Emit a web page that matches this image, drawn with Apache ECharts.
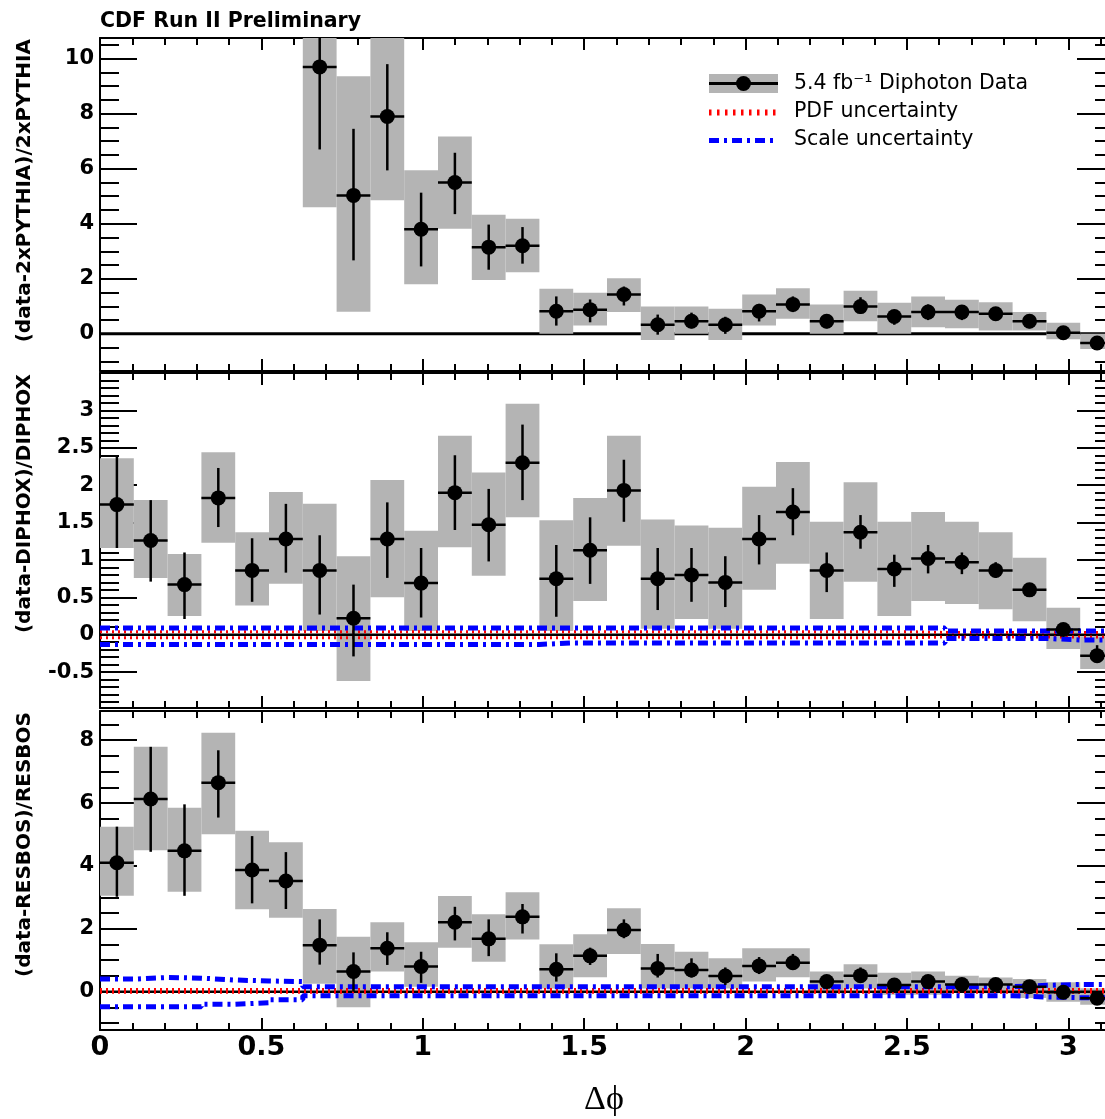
<!DOCTYPE html>
<html>
<head>
<meta charset="utf-8">
<title>CDF Run II Preliminary - diphoton delta phi</title>
<script src="https://cdn.jsdelivr.net/npm/echarts@6/dist/echarts.min.js"></script>
<style>
  html, body { margin: 0; padding: 0; background: #fff; }
  #chart { width: 1105px; height: 1119px; }
</style>
</head>
<body>
<div id="chart"></div>
<script>
  // binning: 30 bins from 0 to pi
  const nBins = 30
  const phiMin = 0
  const phiMax = Math.PI

  // x ticks
  const xMajorTicks = [0, 0.5, 1, 1.5, 2, 2.5, 3]
  const xMinorTicks = [0.1, 0.2, 0.3, 0.4, 0.6, 0.7, 0.8, 0.9, 1.1, 1.2, 1.3, 1.4, 1.6, 1.7, 1.8, 1.9,
    2.1, 2.2, 2.3, 2.4, 2.6, 2.7, 2.8, 2.9, 3.1]

  // panel 1: (data-2xPYTHIA)/2xPYTHIA
  const pythiaVal = [null, null, null, null, null, null, 9.7, 5.03, 7.9, 3.8, 5.5, 3.15, 3.2, 0.82, 0.88,
    1.43, 0.33, 0.46, 0.33, 0.82, 1.07, 0.46, 0.99, 0.63, 0.79, 0.79, 0.73, 0.46, 0.04, -0.33]
  const pythiaBoxLo = [null, null, null, null, null, null, 4.6, 0.8, 4.85, 1.8, 3.82, 1.96, 2.24, 0.0, 0.3,
    0.79, -0.22, 0.0, -0.22, 0.3, 0.55, 0.0, 0.46, 0.0, 0.24, 0.2, 0.12, 0.12, -0.2, -0.55]
  const pythiaBoxHi = [null, null, null, null, null, null, 15, 9.36, 15, 5.94, 7.17, 4.33, 4.18, 1.64, 1.49,
    2.02, 0.99, 0.99, 0.91, 1.43, 1.66, 1.07, 1.57, 1.13, 1.36, 1.24, 1.15, 0.79, 0.4, 0.0]
  const pythiaErrLo = [null, null, null, null, null, null, 6.7, 2.67, 5.94, 2.45, 4.35, 2.33, 2.55, 0.3, 0.42,
    1.03, -0.03, 0.2, 0.0, 0.45, 0.79, 0.2, 0.73, 0.33, 0.5, 0.5, 0.5, 0.2, -0.1, -0.55]
  const pythiaErrHi = [null, null, null, null, null, null, 12.7, 7.45, 9.8, 5.13, 6.58, 3.97, 3.88, 1.36, 1.25,
    1.72, 0.7, 0.77, 0.62, 1.09, 1.36, 0.7, 1.33, 0.87, 1.07, 0.99, 0.9, 0.7, 0.2, -0.11]
  const pythiaYTicks = [0, 2, 4, 6, 8, 10]
  const pythiaYMinor = [-1, -0.5, 0.5, 1, 1.5, 2.5, 3, 3.5, 4.5, 5, 5.5, 6.5, 7, 7.5, 8.5, 9, 9.5, 10.5]

  // panel 2: (data-DIPHOX)/DIPHOX
  const diphoxVal = [1.74, 1.26, 0.67, 1.83, 0.86, 1.28, 0.86, 0.22, 1.28, 0.69, 1.90, 1.47, 2.30, 0.75, 1.13,
    1.93, 0.75, 0.80, 0.70, 1.28, 1.64, 0.86, 1.37, 0.88, 1.02, 0.97, 0.86, 0.60, 0.07, -0.28]
  const diphoxBoxLo = [1.16, 0.76, 0.25, 1.23, 0.39, 0.68, 0.05, -0.62, 0.50, 0.05, 1.17, 0.79, 1.57, 0.05, 0.45,
    1.19, 0.08, 0.21, 0.08, 0.60, 0.95, 0.21, 0.71, 0.25, 0.45, 0.41, 0.34, 0.18, -0.19, -0.46]
  const diphoxBoxHi = [2.36, 1.80, 1.08, 2.44, 1.37, 1.91, 1.75, 1.05, 2.07, 1.39, 2.66, 2.17, 3.09, 1.53, 1.83,
    2.66, 1.54, 1.46, 1.43, 1.98, 2.31, 1.51, 2.04, 1.51, 1.64, 1.51, 1.37, 1.03, 0.36, -0.02]
  const diphoxErrLo = [1.16, 0.71, 0.21, 1.44, 0.44, 0.83, 0.27, -0.29, 0.76, 0.23, 1.40, 0.98, 1.80, 0.24, 0.68,
    1.51, 0.33, 0.44, 0.37, 0.94, 1.33, 0.57, 1.15, 0.64, 0.82, 0.81, 0.76, 0.52, 0.0, -0.36]
  const diphoxErrHi = [2.38, 1.80, 1.10, 2.23, 1.29, 1.75, 1.33, 0.67, 1.77, 1.16, 2.40, 1.95, 2.81, 1.20, 1.57,
    2.34, 1.16, 1.16, 1.05, 1.60, 1.96, 1.10, 1.60, 1.07, 1.20, 1.10, 0.97, 0.67, 0.10, -0.14]
  const diphoxPdfUp = [0.04, 0.04, 0.04, 0.04, 0.04, 0.04, 0.04, 0.04, 0.04, 0.04, 0.04, 0.04, 0.04, 0.04, 0.04,
    0.04, 0.04, 0.04, 0.04, 0.04, 0.04, 0.04, 0.04, 0.04, 0.03, 0.03, 0.03, 0.03, 0.03, 0.03]
  const diphoxPdfDn = [-0.04, -0.04, -0.04, -0.04, -0.04, -0.04, -0.04, -0.04, -0.04, -0.04, -0.04, -0.04, -0.04,
    -0.04, -0.04, -0.04, -0.04, -0.04, -0.04, -0.04, -0.04, -0.04, -0.04, -0.04, -0.03, -0.03, -0.03, -0.03, -0.03, -0.03]
  const diphoxScaleUp = [0.09, 0.09, 0.09, 0.09, 0.09, 0.09, 0.09, 0.09, 0.09, 0.09, 0.09, 0.09, 0.09, 0.09, 0.09,
    0.09, 0.09, 0.09, 0.09, 0.09, 0.09, 0.09, 0.09, 0.09, 0.09, 0.05, 0.05, 0.05, 0.05, 0.05]
  const diphoxScaleDn = [-0.13, -0.13, -0.13, -0.13, -0.13, -0.13, -0.13, -0.13, -0.13, -0.13, -0.13, -0.13, -0.13,
    -0.11, -0.11, -0.11, -0.11, -0.11, -0.11, -0.11, -0.11, -0.11, -0.11, -0.11, -0.11, -0.05, -0.05, -0.05, -0.07, -0.07]
  const diphoxYTicks = [-0.5, 0, 0.5, 1, 1.5, 2, 2.5, 3]
  const diphoxYMajor = [-0.5, 0, 0.5, 1, 1.5, 2, 2.5, 3, 3.5]
  const diphoxYMinor = [-0.9, -0.8, -0.7, -0.6, -0.4, -0.3, -0.2, -0.1, 0.1, 0.2, 0.3, 0.4, 0.6, 0.7, 0.8, 0.9,
    1.1, 1.2, 1.3, 1.4, 1.6, 1.7, 1.8, 1.9, 2.1, 2.2, 2.3, 2.4, 2.6, 2.7, 2.8, 2.9, 3.1, 3.2, 3.3, 3.4]

  // panel 3: (data-RESBOS)/RESBOS
  const resbosVal = [4.10, 6.13, 4.48, 6.65, 3.87, 3.52, 1.48, 0.64, 1.38, 0.80, 2.21, 1.68, 2.38, 0.71, 1.14,
    1.96, 0.74, 0.69, 0.50, 0.82, 0.92, 0.32, 0.51, 0.21, 0.32, 0.23, 0.23, 0.16, -0.02, -0.21]
  const resbosBoxLo = [3.05, 4.50, 3.18, 5.01, 2.62, 2.35, 0.25, -0.50, 0.64, 0.16, 1.40, 0.95, 1.66, 0.10, 0.46,
    1.20, 0.10, 0.10, 0.10, 0.32, 0.46, -0.05, 0.10, -0.10, -0.10, 0.0, -0.05, -0.2, -0.32, -0.42]
  const resbosBoxHi = [5.25, 7.79, 5.85, 8.24, 5.12, 4.75, 2.63, 1.75, 2.21, 1.57, 3.04, 2.46, 3.16, 1.51, 1.83,
    2.65, 1.52, 1.27, 1.06, 1.38, 1.38, 0.64, 0.87, 0.60, 0.64, 0.51, 0.45, 0.40, 0.30, 0.11]
  const resbosErrLo = [3.02, 4.45, 3.05, 5.54, 2.81, 2.63, 0.86, 0.0, 0.85, 0.28, 1.63, 1.13, 1.85, 0.32, 0.85,
    1.70, 0.45, 0.45, 0.21, 0.56, 0.74, 0.1, 0.3, 0.0, 0.1, 0.0, 0.0, 0.02, -0.22, -0.35]
  const resbosErrHi = [5.25, 7.79, 5.96, 7.68, 4.95, 4.44, 2.30, 1.25, 1.89, 1.27, 2.70, 2.30, 2.79, 1.22, 1.40,
    2.30, 1.20, 1.06, 0.77, 1.10, 1.20, 0.5, 0.77, 0.4, 0.5, 0.4, 0.37, 0.28, 0.1, 0.0]
  const resbosPdfUp = [0.07, 0.07, 0.07, 0.07, 0.07, 0.07, 0.07, 0.07, 0.07, 0.07, 0.07, 0.07, 0.07, 0.07, 0.07,
    0.07, 0.07, 0.07, 0.07, 0.07, 0.07, 0.07, 0.07, 0.07, 0.07, 0.07, 0.07, 0.07, 0.07, 0.07]
  const resbosPdfDn = [-0.02, -0.02, -0.02, -0.02, -0.02, -0.02, -0.02, -0.02, -0.02, -0.02, -0.02, -0.02, -0.02,
    -0.02, -0.02, -0.02, -0.02, -0.02, -0.02, -0.02, -0.02, -0.02, -0.02, -0.02, -0.02, -0.02, -0.02, -0.02, -0.02, -0.02]
  const resbosScaleUp = [0.40, 0.45, 0.43, 0.37, 0.34, 0.32, 0.16, 0.16, 0.16, 0.16, 0.16, 0.16, 0.16, 0.16, 0.16,
    0.16, 0.16, 0.16, 0.16, 0.16, 0.16, 0.16, 0.16, 0.16, 0.16, 0.16, 0.16, 0.20, 0.23, 0.23]
  const resbosScaleDn = [-0.48, -0.48, -0.48, -0.40, -0.35, -0.26, -0.13, -0.13, -0.13, -0.13, -0.13, -0.13, -0.13,
    -0.13, -0.13, -0.13, -0.13, -0.13, -0.13, -0.13, -0.13, -0.13, -0.13, -0.13, -0.13, -0.13, -0.13, -0.17, -0.19, -0.19]
  const resbosYTicks = [0, 2, 4, 6, 8]
  const resbosYMinor = [-1, -0.5, 0.5, 1, 1.5, 2.5, 3, 3.5, 4.5, 5, 5.5, 6.5, 7, 7.5, 8.5]

  const boxGray = '#b4b4b4'
  const fontSans = 'DejaVu Sans'

  const binWidth = (phiMax - phiMin) / nBins
  const edges = []
  for (let i = 0; i <= nBins; i++) edges.push(phiMin + i * binWidth)

  // panel frames (pixels) and y ranges; the frame runs past the right edge of the picture
  const panels = [
    { top: 38, height: 333, yMin: -1.35, yMax: 10.75, major: pythiaYTicks, labels: pythiaYTicks, minor: pythiaYMinor,
      title: '(data-2xPYTHIA)/2xPYTHIA', val: pythiaVal, boxLo: pythiaBoxLo, boxHi: pythiaBoxHi,
      errLo: pythiaErrLo, errHi: pythiaErrHi, zeroWidth: 3, zeroZ: 1 },
    { top: 373, height: 335, yMin: -0.98, yMax: 3.5, major: diphoxYMajor, labels: diphoxYTicks, minor: diphoxYMinor,
      title: '(data-DIPHOX)/DIPHOX', val: diphoxVal, boxLo: diphoxBoxLo, boxHi: diphoxBoxHi,
      errLo: diphoxErrLo, errHi: diphoxErrHi, pdfUp: diphoxPdfUp, pdfDn: diphoxPdfDn,
      scaleUp: diphoxScaleUp, scaleDn: diphoxScaleDn, zeroWidth: 2.5, zeroZ: 3 },
    { top: 711, height: 319, yMin: -1.22, yMax: 8.93, major: resbosYTicks, labels: resbosYTicks, minor: resbosYMinor,
      title: '(data-RESBOS)/RESBOS', val: resbosVal, boxLo: resbosBoxLo, boxHi: resbosBoxHi,
      errLo: resbosErrLo, errHi: resbosErrHi, pdfUp: resbosPdfUp, pdfDn: resbosPdfDn,
      scaleUp: resbosScaleUp, scaleDn: resbosScaleDn, zeroWidth: 2.5, zeroZ: 3 }
  ]

  const blackLine = { color: '#000', width: 2 }

  function xAxisPair(g, position, ticks, len, withLine, withLabel) {
    return {
      gridIndex: g, type: 'value', min: phiMin, max: phiMax, position: position,
      axisLine: { show: withLine, onZero: false, lineStyle: blackLine },
      axisTick: { show: true, inside: true, length: len, customValues: ticks, lineStyle: blackLine },
      axisLabel: {
        show: withLabel, customValues: xMajorTicks, margin: 4, color: '#000',
        fontFamily: fontSans, fontWeight: 'bold', fontSize: 27
      },
      splitLine: { show: false }
    }
  }

  function yAxisPair(g, p, position, ticks, len, withLine, withLabel) {
    return {
      gridIndex: g, type: 'value', min: p.yMin, max: p.yMax, position: position,
      axisLine: { show: withLine, onZero: false, lineStyle: blackLine },
      axisTick: { show: true, inside: true, length: len, customValues: ticks, lineStyle: blackLine },
      axisLabel: {
        show: withLabel, customValues: p.labels, margin: 6, color: '#000',
        fontFamily: fontSans, fontWeight: 'bold', fontSize: 21
      },
      splitLine: { show: false }
    }
  }

  function stepData(vals) {
    const pts = []
    vals.forEach((v, i) => {
      pts.push([edges[i], v], [edges[i + 1], v])
    })
    return pts
  }

  function clampY(y, cs) {
    return Math.max(cs.y, Math.min(cs.y + cs.height, y))
  }

  function renderBox(params, api) {
    const p0 = api.coord([api.value(0), api.value(3)])
    const p1 = api.coord([api.value(1), api.value(2)])
    const cs = params.coordSys
    const shape = echarts.graphic.clipRectByRect(
      { x: p0[0], y: p0[1], width: p1[0] - p0[0], height: p1[1] - p0[1] },
      { x: cs.x, y: cs.y, width: cs.width, height: cs.height }
    )
    return shape && { type: 'rect', shape: shape, style: { fill: boxGray } }
  }

  function renderErr(params, api) {
    const cs = params.coordSys
    const xc = (api.value(0) + api.value(1)) / 2
    const lo = api.coord([xc, api.value(2)])
    const hi = api.coord([xc, api.value(3)])
    const a = api.coord([api.value(0), api.value(4)])
    const b = api.coord([api.value(1), api.value(4)])
    return {
      type: 'group',
      children: [
        { type: 'line', shape: { x1: lo[0], y1: clampY(lo[1], cs), x2: hi[0], y2: clampY(hi[1], cs) },
          style: { stroke: '#000', lineWidth: 2.5 } },
        { type: 'line', shape: { x1: a[0], y1: a[1], x2: b[0], y2: b[1] },
          style: { stroke: '#000', lineWidth: 2.5 } }
      ]
    }
  }

  const grid = []
  const xAxis = []
  const yAxis = []
  const series = []

  panels.forEach((p, g) => {
    grid.push({ left: 100, width: 1014, top: p.top, height: p.height, outerBoundsMode: 'none', containLabel: false })
    // 4 x axes and 4 y axes per panel: major/minor ticks on each side of the frame
    xAxis.push(xAxisPair(g, 'bottom', xMajorTicks, 12, true, g === 2))
    xAxis.push(xAxisPair(g, 'bottom', xMinorTicks, 7, false, false))
    xAxis.push(xAxisPair(g, 'top', xMajorTicks, 12, true, false))
    xAxis.push(xAxisPair(g, 'top', xMinorTicks, 7, false, false))
    yAxis.push(yAxisPair(g, p, 'left', p.major, 37, true, true))
    yAxis.push(yAxisPair(g, p, 'left', p.minor, 19, false, false))
    yAxis.push(yAxisPair(g, p, 'right', p.major, 37, true, false))
    yAxis.push(yAxisPair(g, p, 'right', p.minor, 19, false, false))

    const xi = g * 4
    const yi = g * 4
    const boxes = []
    const errs = []
    const pts = []
    p.val.forEach((v, i) => {
      if (v === null) return
      boxes.push([edges[i], edges[i + 1], p.boxLo[i], p.boxHi[i]])
      errs.push([edges[i], edges[i + 1], p.errLo[i], p.errHi[i], v])
      pts.push([(edges[i] + edges[i + 1]) / 2, v])
    })

    series.push({
      type: 'custom', xAxisIndex: xi, yAxisIndex: yi, renderItem: renderBox, data: boxes, z: 2, silent: true
    })
    series.push({
      type: 'line', xAxisIndex: xi, yAxisIndex: yi, data: [[phiMin, 0], [phiMax, 0]], showSymbol: false,
      lineStyle: { color: '#000', width: p.zeroWidth }, z: p.zeroZ, silent: true
    })
    if (p.pdfUp) {
      [p.pdfUp, p.pdfDn].forEach(arr => {
        series.push({
          type: 'line', xAxisIndex: xi, yAxisIndex: yi, data: stepData(arr), showSymbol: false,
          lineStyle: { color: '#ff0000', width: 3, type: [2, 4] }, z: 4, silent: true
        })
      })
      ;[p.scaleUp, p.scaleDn].forEach(arr => {
        series.push({
          type: 'line', xAxisIndex: xi, yAxisIndex: yi, data: stepData(arr), showSymbol: false,
          lineStyle: { color: '#0000ff', width: 5, type: [10, 5, 3, 5] }, z: 4, silent: true
        })
      })
    }
    series.push({
      type: 'custom', xAxisIndex: xi, yAxisIndex: yi, renderItem: renderErr, data: errs, z: 5, silent: true
    })
    series.push({
      type: 'scatter', xAxisIndex: xi, yAxisIndex: yi, data: pts, symbol: 'circle', symbolSize: 15,
      itemStyle: { color: '#000', opacity: 1 }, z: 6, silent: true
    })
  })

  const graphic = [
    { type: 'text', x: 100, y: 21.5,
      style: { text: 'CDF Run II Preliminary', fontFamily: fontSans, fontWeight: 'bold', fontSize: 20.5,
        fill: '#000', textAlign: 'left', textVerticalAlign: 'middle' } },
    { type: 'text', x: 604, y: 1100,
      style: { text: 'Δϕ', fontFamily: 'Liberation Serif', fontSize: 34, fill: '#000',
        textAlign: 'center', textVerticalAlign: 'middle' } },
    // legend
    { type: 'rect', shape: { x: 709, y: 74, width: 69, height: 19 }, style: { fill: boxGray } },
    { type: 'line', shape: { x1: 709, y1: 83.5, x2: 778, y2: 83.5 }, style: { stroke: '#000', lineWidth: 3 } },
    { type: 'circle', shape: { cx: 743.5, cy: 83.5, r: 7.5 }, style: { fill: '#000' } },
    { type: 'line', shape: { x1: 709, y1: 112.5, x2: 778, y2: 112.5 },
      style: { stroke: '#ff0000', lineWidth: 6, lineDash: [2.5, 5.5] } },
    { type: 'line', shape: { x1: 709, y1: 140.5, x2: 778, y2: 140.5 },
      style: { stroke: '#0000ff', lineWidth: 5, lineDash: [10, 5, 3, 5] } },
    { type: 'text', x: 794, y: 83.5,
      style: { text: '5.4 fb⁻¹ Diphoton Data', fontFamily: fontSans, fontSize: 20.5, fill: '#000',
        textAlign: 'left', textVerticalAlign: 'middle' } },
    { type: 'text', x: 794, y: 112,
      style: { text: 'PDF uncertainty', fontFamily: fontSans, fontSize: 20.5, fill: '#000',
        textAlign: 'left', textVerticalAlign: 'middle' } },
    { type: 'text', x: 794, y: 140,
      style: { text: 'Scale uncertainty', fontFamily: fontSans, fontSize: 20.5, fill: '#000',
        textAlign: 'left', textVerticalAlign: 'middle' } }
  ]
  panels.forEach(p => {
    graphic.push({
      type: 'text', x: 25, y: p.top + 1, rotation: Math.PI / 2,
      style: { text: p.title, fontFamily: fontSans, fontWeight: 'bold', fontSize: 20, fill: '#000',
        textAlign: 'right', textVerticalAlign: 'middle' }
    })
  })

  const chart = echarts.init(document.getElementById('chart'), null, { renderer: 'canvas' })
  chart.setOption({
    animation: false,
    backgroundColor: '#fff',
    grid: grid,
    xAxis: xAxis,
    yAxis: yAxis,
    series: series,
    graphic: graphic
  })
</script>
</body>
</html>
